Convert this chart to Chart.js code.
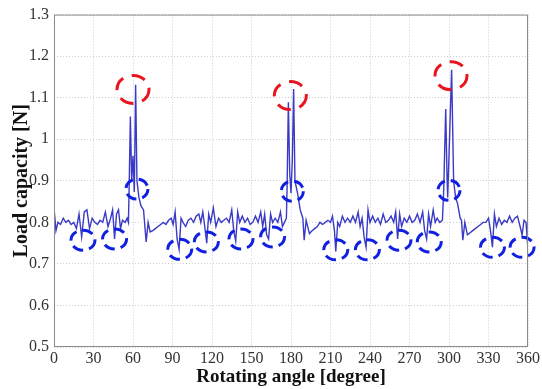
<!DOCTYPE html>
<html>
<head>
<meta charset="utf-8">
<script src="https://cdn.jsdelivr.net/npm/chart.js@4/dist/chart.umd.min.js"></script>
<style>
  html, body { margin: 0; padding: 0; background: #fff; }
  #wrap { width: 542px; height: 389px; }
</style>
</head>
<body>
<div id="wrap"><canvas id="loadChart" width="542" height="389"></canvas></div>
<script>
// rotating angle [degree] and load capacity [N]
var angles = [
  0, 1.5, 3, 5, 7, 9, 11, 13, 15, 17, 19, 21, 23, 25, 27, 29, 31, 33, 35, 37, 39, 41, 43, 44.5, 46, 47.5, 49, 50.5, 52, 54, 55.5, 56.5,
  57, 58, 59, 60, 61, 62, 63, 64.5, 66, 68, 70, 71.5, 73, 75, 77, 79, 81, 83, 85, 87, 89, 90.5, 92, 93.5, 95, 96.5, 98, 100,
  102, 104, 106, 108, 110, 111.5, 113, 114.5, 116, 117.5, 119, 121, 123, 125, 127, 129, 131, 133, 135, 136.5, 138, 139.5, 141, 143,
  145, 147, 149, 151, 153, 155, 157, 158.5, 160, 161.5, 163, 164.5, 166, 168, 170, 172, 173.5, 175, 176.5,
  177, 178, 179, 180, 181, 182, 183, 185, 187, 189, 190, 191.5, 194, 196, 198, 200, 202, 204, 206, 208, 210, 211.5, 213, 214,
  215.5, 217, 219, 221, 223, 225, 227, 229, 231, 232.5, 234, 235.5, 237, 238.5, 240, 242, 244, 246, 248, 250, 252, 254, 256, 258,
  259.5, 261, 262.5, 264, 266, 268, 270, 272, 274, 276, 278, 280, 281.5, 283, 284.5, 286, 288, 289.5, 291, 293, 295,
  296, 297.5, 298.5, 299, 300, 302, 303.5, 305, 306.5, 308.5, 309.5, 310.5, 312, 314, 316, 318, 320, 322, 324, 326, 328, 330,
  331.5, 333, 334.5, 336, 338, 340, 342, 344, 346, 348, 350, 352, 354, 355.5, 357, 358.5, 360
];
var loads = [
  0.835, 0.78, 0.80, 0.795, 0.81, 0.80, 0.805, 0.795, 0.80, 0.785, 0.82, 0.765, 0.825, 0.83, 0.785, 0.81, 0.80, 0.795, 0.805, 0.80, 0.825, 0.79, 0.81, 0.83, 0.76, 0.82, 0.83, 0.785, 0.805, 0.80, 0.81, 0.80,
  0.87, 1.055, 0.90, 0.96, 0.873, 1.131, 0.90, 0.86, 0.84, 0.83, 0.753, 0.80, 0.777, 0.78, 0.785, 0.79, 0.795, 0.80, 0.795, 0.805, 0.81, 0.795, 0.825, 0.76, 0.735, 0.81, 0.80, 0.79,
  0.805, 0.81, 0.80, 0.815, 0.82, 0.80, 0.825, 0.79, 0.75, 0.82, 0.80, 0.835, 0.79, 0.81, 0.80, 0.805, 0.81, 0.80, 0.83, 0.78, 0.755, 0.825, 0.80, 0.815,
  0.80, 0.81, 0.795, 0.80, 0.815, 0.80, 0.825, 0.79, 0.82, 0.77, 0.76, 0.82, 0.80, 0.81, 0.80, 0.825, 0.79, 0.80, 0.81,
  0.88, 1.089, 0.92, 0.87, 0.95, 1.121, 0.90, 0.87, 0.83, 0.81, 0.757, 0.805, 0.773, 0.78, 0.785, 0.79, 0.80, 0.795, 0.80, 0.805, 0.80, 0.815, 0.78, 0.73,
  0.80, 0.79, 0.815, 0.80, 0.81, 0.80, 0.815, 0.80, 0.825, 0.79, 0.81, 0.765, 0.74, 0.83, 0.80, 0.815, 0.80, 0.81, 0.795, 0.82, 0.80, 0.805, 0.815, 0.80,
  0.825, 0.76, 0.82, 0.79, 0.81, 0.80, 0.815, 0.80, 0.805, 0.82, 0.80, 0.825, 0.78, 0.76, 0.82, 0.79, 0.83, 0.80, 0.81, 0.80, 0.805,
  0.88, 1.073, 0.91, 0.86, 0.96, 1.167, 0.90, 0.86, 0.845, 0.81, 0.805, 0.757, 0.80, 0.77, 0.775, 0.78, 0.785, 0.79, 0.795, 0.80, 0.80, 0.81,
  0.78, 0.74, 0.82, 0.79, 0.81, 0.795, 0.805, 0.80, 0.815, 0.80, 0.81, 0.815, 0.79, 0.77, 0.805, 0.80, 0.735
];

// dashed marks drawn over the curve: [angle, load]
var redMarks = [[60, 1.12], [179.5, 1.105], [301.5, 1.153]];
var blueTopMarks = [[63, 0.88], [181, 0.875], [300, 0.877]];
var blueLowMarks = [
  [22, 0.757], [46, 0.76], [95.5, 0.735], [115.7, 0.753], [142, 0.76], [166, 0.765],
  [214, 0.734], [238, 0.734], [262, 0.757], [285, 0.753], [333, 0.74], [355.5, 0.74]
];

var xTicks = [0, 30, 60, 90, 120, 150, 180, 210, 240, 270, 300, 330, 360];
var yTicks = [0.5, 0.6, 0.7, 0.8, 0.9, 1.0, 1.1, 1.2, 1.3];

var points = angles.map(function (a, i) { return { x: a, y: loads[i] }; });

var serif = '"Liberation Serif", "Times New Roman", serif';

// ellipses in dashes, placed through the scales
var markPlugin = {
  id: 'marks',
  afterDatasetsDraw: function (chart) {
    var ctx = chart.ctx;
    var xs = chart.scales.x, ys = chart.scales.y;
    function draw(list, color, rx, ry, dash) {
      ctx.save();
      ctx.strokeStyle = color;
      ctx.lineWidth = 3;
      ctx.setLineDash(dash);
      list.forEach(function (m) {
        var cx = xs.getPixelForValue(m[0]);
        var cy = ys.getPixelForValue(m[1]);
        ctx.beginPath();
        ctx.ellipse(cx, cy, rx, ry, 0, 0, Math.PI * 2);
        ctx.stroke();
      });
      ctx.restore();
    }
    draw(redMarks, '#e8141e', 16, 14, [14, 9]);
    draw(blueTopMarks, '#1020e0', 11, 10, [11, 6]);
    draw(blueLowMarks, '#1020e0', 12, 10, [11, 6]);
  }
};

// box around the plot
var boxPlugin = {
  id: 'box',
  afterDraw: function (chart) {
    var a = chart.chartArea, ctx = chart.ctx;
    ctx.save();
    ctx.strokeStyle = '#8a8a8a';
    ctx.lineWidth = 1;
    ctx.strokeRect(a.left + 0.5, a.top + 0.5, a.right - a.left - 1, a.bottom - a.top - 1);
    ctx.restore();
  }
};

var ctx = document.getElementById('loadChart').getContext('2d');
new Chart(ctx, {
  type: 'line',
  data: {
    datasets: [{
      data: points,
      borderColor: '#3a3ac6',
      borderWidth: 1.4,
      pointRadius: 0,
      tension: 0,
      fill: false
    }]
  },
  options: {
    responsive: false,
    animation: false,
    events: [],
    layout: { padding: { top: 14, right: 13, left: 10, bottom: 0 } },
    plugins: { legend: { display: false }, tooltip: { enabled: false } },
    scales: {
      x: {
        type: 'linear',
        min: 0, max: 360,
        afterBuildTicks: function (s) { s.ticks = xTicks.map(function (v) { return { value: v }; }); },
        afterFit: function (s) { s.height = 42; },
        grid: { color: '#cfcfcf', borderDash: [1, 2], drawTicks: false },
        border: { display: false, dash: [1, 2] },
        ticks: { color: '#333', font: { family: serif, size: 16 }, padding: 2, maxRotation: 0, autoSkip: false },
        title: { display: true, text: 'Rotating angle [degree]', color: '#111',
                 font: { family: serif, size: 19, weight: 'bold' }, padding: { top: 0, bottom: 1 } }
      },
      y: {
        min: 0.5, max: 1.3,
        afterBuildTicks: function (s) { s.ticks = yTicks.map(function (v) { return { value: v }; }); },
        afterFit: function (s) { s.width = 44; },
        grid: { color: '#cfcfcf', borderDash: [1, 2], drawTicks: false },
        border: { display: false, dash: [1, 2] },
        ticks: {
          color: '#333', font: { family: serif, size: 16 }, padding: 5, autoSkip: false,
          callback: function (v) { return String(parseFloat(v.toFixed(1))); }
        },
        title: { display: true, text: 'Load capacity [N]', color: '#111',
                 font: { family: serif, size: 20, weight: 'bold' }, padding: { top: 0, bottom: 0 } }
      }
    }
  },
  plugins: [markPlugin, boxPlugin]
});
</script>
</body>
</html>
